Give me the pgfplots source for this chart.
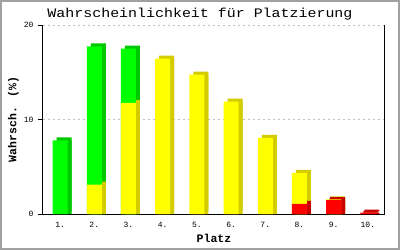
\documentclass[border=0pt]{standalone}
\usepackage{fontspec}
\setmainfont{Liberation Mono}
\newfontfamily\titlefont[FakeStretch=1.15]{Liberation Mono}
\usepackage{pgfplots}
\pgfplotsset{compat=1.18}
\definecolor{gfront}{HTML}{00FF00}
\definecolor{gside}{HTML}{00C800}
\definecolor{yfront}{HTML}{FFFF00}
\definecolor{yside}{HTML}{D2CC00}
\definecolor{rfront}{HTML}{FF0000}
\definecolor{rside}{HTML}{C80000}
\definecolor{gridc}{HTML}{C0C0C0}
\definecolor{framec}{HTML}{A0A0A0}
\begin{document}
\begin{tikzpicture}[x=1pt,y=1pt]
\fill[white] (0,0) rectangle (400,250);
\draw[framec, line width=2pt] (1,1) rectangle (399,249);
\begin{axis}[
  at={(43pt,36pt)}, anchor=south west,
  scale only axis, width=342pt, height=189pt,
  xmin=0.5, xmax=10.5, ymin=0, ymax=20,
  axis lines*=left,
  axis line style={line width=1pt, black},
  extra description/.code={\draw[line width=1pt] (rel axis cs:1,0) -- (rel axis cs:1,1);},
  xtick={1,...,10}, xticklabels={1.,2.,3.,4.,5.,6.,7.,8.,9.,10.},
  ytick={0,10,20},
  x tick style={draw=none},
  y tick style={line width=1pt, black},
  tick align=outside, major tick length=5pt,
  /pgf/number format/assume math mode=true,
  tick label style={font=\fontsize{8}{8}\selectfont},
  xticklabel style={anchor=base, yshift=-8.3pt},
  yticklabel style={xshift=-1pt},
  ymajorgrids,
  grid style={gridc, line width=0.8pt, dash pattern=on 2.5pt off 2.5pt},
  title={\titlefont Wahrscheinlichkeit für Platzierung},
  title style={at={(axis description cs:0.459,1)}, anchor=base, yshift=1.5pt, font=\fontsize{13}{13}\selectfont},
  xlabel={Platz},
  xlabel style={at={(axis description cs:0.5,0)}, anchor=base, yshift=-28.3pt, font=\fontsize{11.5}{11.5}\selectfont\bfseries},
  ylabel={Wahrsch. (\%)},
  ylabel style={at={([xshift=-26.5pt]axis description cs:0,0.5)}, anchor=base, rotate=0, font=\fontsize{11.5}{11.5}\selectfont\bfseries},
  ybar, bar width=15pt, bar shift=0pt,
]
% shadows (depth), drawn first
\addplot[fill=gside, draw=none, xshift=4pt, yshift=3pt] coordinates {(1,7.8) (2,17.74) (3,17.5)};
\addplot[fill=gside, draw=none, xshift=4pt] coordinates {(1,7.8) (2,17.74) (3,17.5)};
\addplot[fill=yside, draw=none, xshift=4pt, yshift=3pt] coordinates {(2,3.1) (3,11.77) (4,16.44) (5,14.74) (6,11.88) (7,8.06) (8,4.35) (9,1.56)};
\addplot[fill=yside, draw=none, xshift=4pt] coordinates {(2,3.1) (3,11.77) (4,16.44) (5,14.74) (6,11.88) (7,8.06) (8,4.35) (9,1.56)};
\addplot[fill=rside, draw=none, xshift=4pt, yshift=3pt] coordinates {(8,1.06) (9,1.48) (10,0.14)};
\addplot[fill=rside, draw=none, xshift=3pt, yshift=1.5pt] coordinates {(8,1.06) (9,1.48) (10,0.14)};
\addplot[fill=rside, draw=none, xshift=4pt] coordinates {(8,1.06) (9,1.48) (10,0.14)};
% fronts: cumulative heights, green = red+yellow+green, yellow = red+yellow, red
\addplot[fill=gfront, draw=none] coordinates {(1,7.8) (2,17.74) (3,17.5)};
\addplot[fill=yfront, draw=none] coordinates {(2,3.1) (3,11.77) (4,16.44) (5,14.74) (6,11.88) (7,8.06) (8,4.35) (9,1.56)};
\addplot[fill=rfront, draw=none] coordinates {(8,1.06) (9,1.48) (10,0.14)};
\end{axis}
\end{tikzpicture}
\end{document}
